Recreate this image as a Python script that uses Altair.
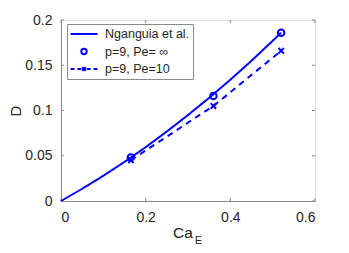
import altair as alt
import pandas as pd

# Nganguia et al. curve
curve_x = [0.0, 0.05, 0.10, 0.15, 0.20, 0.25, 0.30, 0.35, 0.40, 0.45, 0.50, 0.52]
curve_y = [0.0, 0.0135, 0.0279, 0.0432, 0.0595, 0.0768, 0.0950, 0.1140, 0.1340, 0.1550, 0.1770, 0.1860]

# p=9, Pe=inf (circles)
inf_x = [0.165, 0.36, 0.52]
inf_y = [0.048, 0.116, 0.186]

# p=9, Pe=10 (dashed with crosses)
pe10_x = [0.165, 0.36, 0.52]
pe10_y = [0.045, 0.105, 0.166]

series_names = ["Nganguia et al.", "p=9, Pe= \u221e", "p=9, Pe=10"]
x_ticks = [0, 0.2, 0.4, 0.6]
y_ticks = [0, 0.05, 0.1, 0.15, 0.2]

BLUE = "#0000ff"
GRAY = "#8a8a8a"
TXT = "#262626"
FONT = "Liberation Sans"
W, H = 254, 181

curve_df = pd.DataFrame({"x": curve_x, "y": curve_y, "series": series_names[0]})
inf_df = pd.DataFrame({"x": inf_x, "y": inf_y, "series": series_names[1]})
pe10_df = pd.DataFrame({"x": pe10_x, "y": pe10_y, "series": series_names[2]})
lines_df = pd.concat([curve_df, pe10_df])
legend_df = pd.DataFrame({"x": [0.0] * 3, "y": [0.0] * 3, "series": series_names})

xs = alt.Scale(domain=[0, 0.6], nice=False)
ys = alt.Scale(domain=[0, 0.2], nice=False)

xaxis = alt.Axis(values=x_ticks, format=".1~f", title=None, grid=False, tickSize=0,
                 labelPadding=9, domainColor=GRAY, labelColor=TXT,
                 labelFont=FONT, labelFontSize=14)
yaxis = alt.Axis(values=y_ticks, format=".2~f", title="D", grid=False, tickSize=0,
                 labelPadding=9, domainColor=GRAY, labelColor=TXT,
                 labelFont=FONT, labelFontSize=14, titleFont=FONT, titleFontSize=15,
                 titleFontWeight="normal", titleColor=TXT, titlePadding=1)

X = alt.X("x:Q", scale=xs, axis=xaxis)
Y = alt.Y("y:Q", scale=ys, axis=yaxis)

lines = alt.Chart(lines_df).mark_line(color=BLUE, strokeWidth=2).encode(
    x=X, y=Y,
    strokeDash=alt.StrokeDash("series:N",
                              scale=alt.Scale(domain=[series_names[0], series_names[2]],
                                              range=[[1, 0], [6, 5]]),
                              legend=None),
)

circles = alt.Chart(inf_df).mark_point(shape="circle", filled=False, color=BLUE,
                                       size=42, strokeWidth=2, opacity=1).encode(x=X, y=Y)

crosses = alt.Chart(pe10_df).mark_point(shape="M-1,-1L1,1M-1,1L1,-1", filled=False, color=BLUE,
                                        size=30, strokeWidth=2, opacity=1).encode(x=X, y=Y)

# legend symbols: unit = sqrt(144)/2 = 6px; lines span 27px
sym_line = "M-2.25,0H2.25"
sym_circle = "M0.45,0A0.45,0.45 0 1,1 -0.45,0A0.45,0.45 0 1,1 0.45,0"
sym_dash_cross = ("M-2.25,0H-1.6M-1.1,0H-0.45M0.45,0H1.1M1.6,0H2.25"
                  "M-0.3,-0.3L0.3,0.3M-0.3,0.3L0.3,-0.3")

legend_layer = alt.Chart(legend_df).mark_point(filled=False, color=BLUE, opacity=0,
                                               strokeWidth=2, size=144).encode(
    x=X, y=Y,
    shape=alt.Shape("series:N",
                    scale=alt.Scale(domain=series_names,
                                    range=[sym_line, sym_circle, sym_dash_cross]),
                    legend=alt.Legend(title=None, orient="none", legendX=6, legendY=4,
                                      fillColor="white", strokeColor=GRAY,
                                      padding=3, rowPadding=3.5, labelOffset=14,
                                      symbolOffset=7,
                                      labelFont=FONT, labelFontSize=12.5, labelColor=TXT,
                                      labelExpr="datum.label + '     '",
                                      symbolStrokeColor=BLUE, symbolStrokeWidth=2,
                                      symbolOpacity=1, symbolSize=144,
                                      labelLimit=250)),
)

tick_x_df = pd.DataFrame({"x": x_ticks})
tick_y_df = pd.DataFrame({"y": y_ticks})
tk = 3
ticks_bottom = alt.Chart(tick_x_df).mark_rule(color=GRAY).encode(
    x=alt.X("x:Q", scale=xs, axis=xaxis), y=alt.value(H), y2=alt.value(H - tk))
ticks_top = alt.Chart(tick_x_df).mark_rule(color=GRAY).encode(
    x=alt.X("x:Q", scale=xs, axis=xaxis), y=alt.value(0), y2=alt.value(tk))
ticks_left = alt.Chart(tick_y_df).mark_rule(color=GRAY).encode(
    y=alt.Y("y:Q", scale=ys, axis=yaxis), x=alt.value(0), x2=alt.value(tk))
ticks_right = alt.Chart(tick_y_df).mark_rule(color=GRAY).encode(
    y=alt.Y("y:Q", scale=ys, axis=yaxis), x=alt.value(W), x2=alt.value(W - tk))

title_ca = alt.Chart(pd.DataFrame({"t": ["Ca"]})).mark_text(
    font=FONT, fontSize=15.5, color=TXT, align="center", baseline="alphabetic").encode(
    text="t:N", x=alt.value(122), y=alt.value(218))
title_e = alt.Chart(pd.DataFrame({"t": ["E"]})).mark_text(
    font=FONT, fontSize=10.5, color=TXT, align="left", baseline="alphabetic").encode(
    text="t:N", x=alt.value(134), y=alt.value(224))

chart = alt.layer(
    ticks_bottom, ticks_top, ticks_left, ticks_right,
    lines, circles, crosses, legend_layer, title_ca, title_e,
).properties(
    width=W, height=H,
    autosize=alt.AutoSizeParams(type="none"),
    padding={"left": 53, "top": 12, "right": 26, "bottom": 44},
).configure_view(stroke=GRAY, strokeWidth=1).configure(background="white")

chart.save("out.html", embed_options={"renderer": "svg", "actions": False})
